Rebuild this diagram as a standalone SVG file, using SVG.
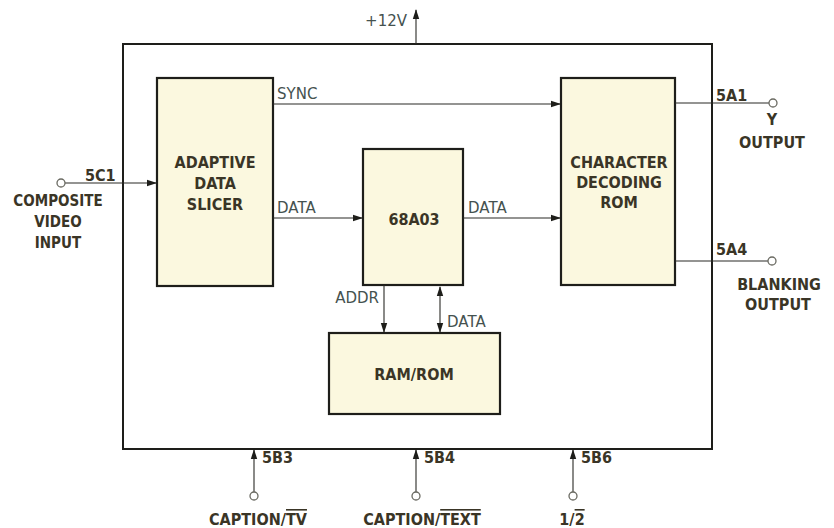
<svg xmlns="http://www.w3.org/2000/svg" width="834" height="528" viewBox="0 0 834 528">
<defs>
<marker id="ah" markerWidth="10" markerHeight="8" refX="9" refY="4" orient="auto-start-reverse" markerUnits="userSpaceOnUse">
<path d="M0,0.8 L10,4 L0,7.2 Z" fill="#1e1e1a"/>
</marker>
<style>
.blk{fill:#fbf8df;stroke:#1e1e1a;stroke-width:2.2}
.frame{fill:none;stroke:#1e1e1a;stroke-width:2}
.w{fill:none;stroke:#2a2a26;stroke-width:1.1}
.pin{fill:#fff;stroke:#6a6a62;stroke-width:1.3}
.t{font-family:"DejaVu Sans Condensed","DejaVu Sans",sans-serif;font-weight:bold;font-size:16px;fill:#3a3526}
.s{font-family:"DejaVu Sans","Liberation Sans",sans-serif;font-size:15px;fill:#45524f}
.c{text-anchor:middle}
.ov{text-decoration:overline}
</style>
</defs>
<rect width="834" height="528" fill="#ffffff"/>
<g id="frame"><rect class="frame" x="123" y="44" width="589" height="405"/></g>
<g id="slicer"><rect class="blk" x="157" y="78" width="116" height="208"/>
<text class="t c" x="215" y="168">ADAPTIVE</text><text class="t c" x="215" y="189">DATA</text><text class="t c" x="215" y="210">SLICER</text></g>
<g id="cpu"><rect class="blk" x="363" y="149" width="100" height="136"/>
<text class="t c" x="414" y="225">68A03</text></g>
<g id="chrom"><rect class="blk" x="561" y="78" width="114" height="207"/>
<text class="t c" x="619" y="168">CHARACTER</text><text class="t c" x="619" y="188">DECODING</text><text class="t c" x="619" y="208">ROM</text></g>
<g id="ram"><rect class="blk" x="329" y="333" width="171" height="81"/>
<text class="t c" x="414" y="380">RAM/ROM</text></g>
<g id="connectors">
<line class="w" x1="416" y1="44" x2="416" y2="10" marker-end="url(#ah)"/>
<line class="w" x1="65" y1="183" x2="156" y2="183" marker-end="url(#ah)"/>
<line class="w" x1="273" y1="104" x2="560" y2="104" marker-end="url(#ah)"/>
<line class="w" x1="273" y1="218" x2="362" y2="218" marker-end="url(#ah)"/>
<line class="w" x1="463" y1="218" x2="560" y2="218" marker-end="url(#ah)"/>
<line class="w" x1="384" y1="285" x2="384" y2="332" marker-end="url(#ah)"/>
<line class="w" x1="440" y1="287" x2="440" y2="332" marker-start="url(#ah)" marker-end="url(#ah)"/>
<line class="w" x1="675" y1="103" x2="769" y2="103"/>
<line class="w" x1="675" y1="261" x2="768" y2="261"/>
<line class="w" x1="254" y1="492" x2="254" y2="450" marker-end="url(#ah)"/>
<line class="w" x1="416" y1="492" x2="416" y2="450" marker-end="url(#ah)"/>
<line class="w" x1="573" y1="492" x2="573" y2="450" marker-end="url(#ah)"/>
</g>
<g id="pins">
<circle class="pin" cx="61" cy="183" r="4"/>
<circle class="pin" cx="773" cy="103" r="4"/>
<circle class="pin" cx="772" cy="261" r="4"/>
<circle class="pin" cx="254" cy="496" r="4"/>
<circle class="pin" cx="416" cy="496" r="4"/>
<circle class="pin" cx="573" cy="496" r="4"/>
</g>
<g id="labels">
<text class="s" x="407" y="26" text-anchor="end">+12V</text>
<text class="t" x="85" y="181">5C1</text>
<text class="t c" x="58" y="206" style="font-size:15px">COMPOSITE</text><text class="t c" x="58" y="227" style="font-size:15px">VIDEO</text><text class="t c" x="58" y="248" style="font-size:15px">INPUT</text>
<text class="s" x="277" y="99">SYNC</text>
<text class="s" x="277" y="213">DATA</text>
<text class="s" x="468" y="213">DATA</text>
<text class="s" x="379" y="303" text-anchor="end">ADDR</text>
<text class="s" x="447" y="327">DATA</text>
<text class="t" x="716" y="101">5A1</text>
<text class="t c" x="772" y="125">Y</text><text class="t c" x="772" y="148">OUTPUT</text>
<text class="t" x="716" y="255">5A4</text>
<text class="t c" x="779" y="290">BLANKING</text><text class="t c" x="778" y="310">OUTPUT</text>
<text class="t" x="262" y="463">5B3</text>
<text class="t" x="424" y="463">5B4</text>
<text class="t" x="581" y="463">5B6</text>
<text class="t c" x="258" y="525">CAPTION/<tspan class="ov">TV</tspan></text>
<text class="t c" x="422" y="525">CAPTION/<tspan class="ov">TEXT</tspan></text>
<text class="t c" x="572" y="525">1/<tspan class="ov">2</tspan></text>
</g>
</svg>
